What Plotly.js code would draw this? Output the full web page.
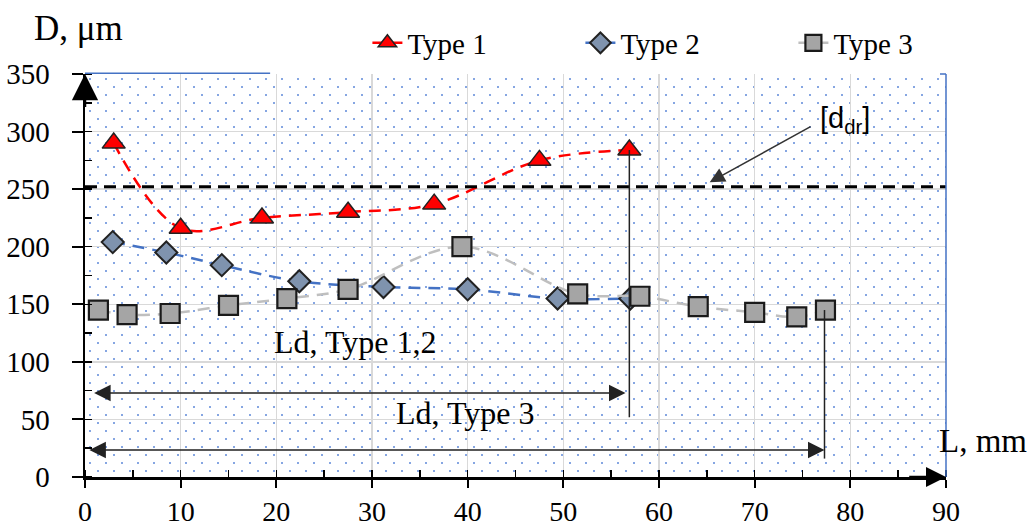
<!DOCTYPE html>
<html><head><meta charset="utf-8">
<script src="https://cdn.plot.ly/plotly-3.0.1.min.js"></script>
<style>html,body{margin:0;padding:0;background:#fff}</style>
</head><body><div id="chart" style="width:1035px;height:526px"></div>
<script>
// ---- data ----
const seriesNames = ['Type 1', 'Type 2', 'Type 3'];
const type1X = [3.0, 10.0, 18.5, 27.5, 36.5, 47.5, 56.9];
const type1Y = [290, 216, 225, 230, 237, 275, 284];
const type2X = [2.9, 8.5, 14.3, 22.4, 31.2, 40.0, 49.4, 57.0];
const type2Y = [204, 195, 184, 170, 165, 163, 155, 155];
const type3X = [1.4, 4.4, 8.9, 15.0, 21.1, 27.5, 39.4, 51.5, 58.0, 64.1, 70.0, 74.4, 77.4];
const type3Y = [145, 141, 142, 149, 155, 163, 200, 159, 157, 148, 143, 139, 145];
const xTickVals = [0, 10, 20, 30, 40, 50, 60, 70, 80, 90];
const yTickVals = [0, 50, 100, 150, 200, 250, 300, 350];
const ddrLevel = 252;          // [d_dr] threshold
const ldType12 = 56.9;         // Ld for Type 1,2
const ldType3 = 77.3;          // Ld for Type 3

const serif = "'Liberation Serif', 'Times New Roman', serif";
const sans = "'Liberation Sans', Arial, sans-serif";
const dotSvg = '<svg xmlns="http://www.w3.org/2000/svg" width="861" height="403" shape-rendering="crispEdges">' +
  '<defs><pattern id="p" width="16" height="16" patternUnits="userSpaceOnUse">' +
  '<rect x="4" y="4" width="2" height="2" fill="#86a6e2"/>' +
  '<rect x="12" y="12" width="2" height="2" fill="#86a6e2"/></pattern></defs>' +
  '<rect width="861" height="403" fill="url(#p)"/></svg>';

const traces = [
  {x: type1X, y: type1Y, name: seriesNames[0], mode: 'lines+markers',
   line: {color: '#FF0000', width: 2.5, dash: '12px,8px', shape: 'spline'},
   marker: {symbol: 'triangle-up', size: 20, color: '#FF0000', line: {color: '#222', width: 1.5}}},
  {x: type2X, y: type2Y, name: seriesNames[1], mode: 'lines+markers',
   line: {color: '#4472C4', width: 2.5, dash: '12px,8px', shape: 'spline'},
   marker: {symbol: 'diamond', size: 17, color: '#7F93AE', line: {color: '#222', width: 2}}},
  {x: type3X, y: type3Y, name: seriesNames[2], mode: 'lines+markers',
   line: {color: '#BFBFBF', width: 2.5, dash: '12px,8px', shape: 'spline'},
   marker: {symbol: 'square', size: 19, color: '#A5A5A5', line: {color: '#1a1a1a', width: 2.2}}}
];

const layout = {
  width: 1035, height: 526,
  margin: {l: 85, r: 89, t: 74, b: 49, autoexpand: false},
  paper_bgcolor: '#fff', plot_bgcolor: 'rgba(0,0,0,0)',
  showlegend: true,
  legend: {orientation: 'h', x: 0.328, xanchor: 'left', y: 1.077, yanchor: 'middle',
           font: {family: serif, size: 29, color: '#000'}, entrywidth: 168, entrywidthmode: 'pixels',
           bgcolor: 'rgba(0,0,0,0)'},
  xaxis: {range: [0, 90], tickvals: xTickVals, showgrid: true, gridcolor: '#D9D9D9', gridwidth: 1.5,
          zeroline: false, showline: true, linecolor: '#000', linewidth: 2.5,
          ticks: 'outside', ticklen: 8, tickwidth: 2, tickcolor: '#000',
          minor: {dtick: 5, ticks: 'inside', ticklen: 7, tickwidth: 1.5, tickcolor: '#000', showgrid: false},
          tickfont: {family: serif, size: 28, color: '#000'}, ticklabelstandoff: 0, fixedrange: true},
  xaxis2: {range: [0, 90], overlaying: 'x', anchor: 'y', side: 'bottom', tickvals: xTickVals,
           showgrid: false, zeroline: false, showline: false, showticklabels: false,
           ticks: 'inside', ticklen: 9, tickwidth: 2, tickcolor: '#000'},
  yaxis: {range: [0, 350], tickvals: yTickVals, showgrid: true, gridcolor: '#D9D9D9', gridwidth: 1.5,
          zeroline: false, showline: true, linecolor: '#000', linewidth: 2.5,
          ticks: 'outside', ticklen: 11, tickwidth: 2, tickcolor: '#000',
          minor: {dtick: 25, ticks: 'inside', ticklen: 7, tickwidth: 1.5, tickcolor: '#000', showgrid: false},
          tickfont: {family: serif, size: 29, color: '#000'}, ticklabelstandoff: 16, fixedrange: true},
  yaxis2: {range: [0, 350], overlaying: 'y', anchor: 'x', side: 'left', tickvals: yTickVals,
           showgrid: false, zeroline: false, showline: false, showticklabels: false,
           ticks: 'inside', ticklen: 10, tickwidth: 2, tickcolor: '#000'},
  images: [{source: 'data:image/svg+xml;charset=utf-8,' + encodeURIComponent(dotSvg),
            xref: 'paper', yref: 'paper', x: 0, y: 1, sizex: 1, sizey: 1,
            sizing: 'stretch', xanchor: 'left', yanchor: 'top', layer: 'below'}],
  shapes: [
    {type: 'line', xref: 'paper', yref: 'y', x0: 0, x1: 1, y0: ddrLevel, y1: ddrLevel,
     line: {color: '#000', width: 3, dash: '12px,7px'}, layer: 'above'},
    {type: 'line', xref: 'x', yref: 'y', x0: ldType12, x1: ldType12, y0: 52, y1: type1Y[type1Y.length - 1],
     line: {color: '#222', width: 1.5}, layer: 'above'},
    {type: 'line', xref: 'x', yref: 'y', x0: ldType3, x1: ldType3, y0: 16, y1: type3Y[type3Y.length - 1],
     line: {color: '#222', width: 1.5}, layer: 'above'},
    {type: 'line', xref: 'paper', yref: 'paper', x0: 0, x1: 0.215, y0: 1.002, y1: 1.002,
     line: {color: '#4472C4', width: 1.5}},
    {type: 'line', xref: 'paper', yref: 'paper', x0: 1, x1: 1, y0: 0, y1: 1,
     line: {color: '#4472C4', width: 1.5}},
    {type: 'line', xref: 'paper', yref: 'paper', x0: 0.993, x1: 1, y0: 1, y1: 1,
     line: {color: '#4472C4', width: 1.5}}
  ],
  annotations: [
    // axis arrows
    {xref: 'x', yref: 'y', x: 0, y: 350, axref: 'x', ayref: 'y', ax: 0, ay: 320, text: '',
     showarrow: true, arrowhead: 2, arrowsize: 2.1, arrowwidth: 2.5, arrowcolor: '#000', standoff: 0},
    {xref: 'x', yref: 'y', x: 90, y: 0, axref: 'x', ayref: 'y', ax: 86, ay: 0, text: '',
     showarrow: true, arrowhead: 2, arrowsize: 1.6, arrowwidth: 2.5, arrowcolor: '#000', standoff: 0},
    // axis titles
    {xref: 'paper', yref: 'paper', x: -0.061, y: 1.113, xanchor: 'left', yanchor: 'middle',
     text: 'D, μm', showarrow: false, font: {family: serif, size: 35, color: '#000'}},
    {xref: 'paper', yref: 'paper', x: 0.99, y: 0.09, xanchor: 'left', yanchor: 'middle',
     text: 'L, mm', showarrow: false, font: {family: serif, size: 33, color: '#000'}},
    // Ld arrows
    {xref: 'x', yref: 'y', x: ldType12 - 0.4, y: 73, axref: 'x', ayref: 'y', ax: 0.8, ay: 73, text: '',
     showarrow: true, arrowhead: 2, arrowside: 'end+start', arrowsize: 2.2, arrowwidth: 1.5, arrowcolor: '#222', standoff: 0, startstandoff: 0},
    {xref: 'x', yref: 'y', x: ldType3, y: 23.5, axref: 'x', ayref: 'y', ax: 0.3, ay: 23.5, text: '',
     showarrow: true, arrowhead: 2, arrowside: 'end+start', arrowsize: 2.2, arrowwidth: 1.5, arrowcolor: '#222', standoff: 0, startstandoff: 0},
    {xref: 'x', yref: 'y', x: 28.2, y: 117, text: 'Ld, Type 1,2', showarrow: false,
     font: {family: serif, size: 32, color: '#000'}},
    {xref: 'x', yref: 'y', x: 39.7, y: 56, text: 'Ld, Type 3', showarrow: false,
     font: {family: serif, size: 32, color: '#000'}},
    // [d_dr] label and pointer
    {xref: 'x', yref: 'y', x: 65.3, y: 256, axref: 'x', ayref: 'y', ax: 76, ay: 305, text: '',
     showarrow: true, arrowhead: 2, arrowsize: 2, arrowwidth: 1.5, arrowcolor: '#333', standoff: 0},
    {xref: 'x', yref: 'y', x: 76.6, y: 310, xanchor: 'left', text: '[d<sub>dr</sub>]', showarrow: false,
     font: {family: sans, size: 29, color: '#000'}}
  ]
};

Plotly.newPlot('chart', traces, layout, {displayModeBar: false, staticPlot: true});
</script></body></html>
